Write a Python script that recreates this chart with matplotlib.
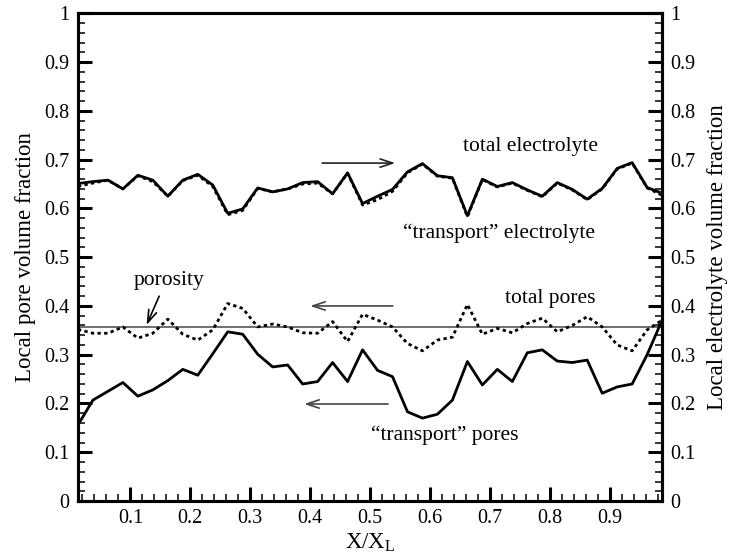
"""Local pore and electrolyte volume fractions along the electrode."""

import numpy as np
import matplotlib.pyplot as plt
from matplotlib.ticker import MultipleLocator, FuncFormatter


N_CELLS = 40
X_POS = (np.arange(N_CELLS) + 0.5) / N_CELLS

TOTAL_ELECTROLYTE = [
    0.651, 0.655, 0.658, 0.640, 0.668, 0.658, 0.625, 0.658, 0.670, 0.648,
    0.590, 0.599, 0.642, 0.634, 0.640, 0.653, 0.655, 0.630, 0.673, 0.610,
    0.625, 0.639, 0.675, 0.692, 0.667, 0.663, 0.585, 0.660, 0.645, 0.653,
    0.638, 0.625, 0.653, 0.639, 0.619, 0.641, 0.682, 0.694, 0.643, 0.631,
]
TRANSPORT_ELECTROLYTE = [
    0.645, 0.652, 0.658, 0.640, 0.667, 0.655, 0.625, 0.657, 0.668, 0.645,
    0.587, 0.596, 0.641, 0.634, 0.640, 0.650, 0.652, 0.630, 0.672, 0.607,
    0.618, 0.635, 0.673, 0.691, 0.666, 0.662, 0.583, 0.659, 0.644, 0.652,
    0.637, 0.624, 0.652, 0.638, 0.618, 0.640, 0.681, 0.693, 0.642, 0.627,
]
TOTAL_PORES = [
    0.352, 0.344, 0.344, 0.357, 0.334, 0.344, 0.373, 0.342, 0.330, 0.351,
    0.405, 0.395, 0.357, 0.363, 0.357, 0.345, 0.344, 0.368, 0.327, 0.383,
    0.371, 0.357, 0.323, 0.308, 0.330, 0.336, 0.403, 0.342, 0.354, 0.345,
    0.364, 0.375, 0.347, 0.360, 0.378, 0.357, 0.320, 0.308, 0.351, 0.371,
]
TRANSPORT_PORES = [
    0.156, 0.207, 0.225, 0.243, 0.215, 0.228, 0.247, 0.270, 0.258, 0.302,
    0.347, 0.342, 0.301, 0.275, 0.279, 0.240, 0.245, 0.284, 0.245, 0.310,
    0.268, 0.255, 0.183, 0.170, 0.178, 0.207, 0.286, 0.238, 0.270, 0.245,
    0.304, 0.310, 0.287, 0.284, 0.289, 0.221, 0.234, 0.240, 0.300, 0.371,
]
POROSITY = 0.357

FONT = "Liberation Serif"
TICK_SIZE = 14.5
LABEL_SIZE = 16.5
NOTE_SIZE = 15.5

plt.rcParams["font.family"] = "serif"
plt.rcParams["font.serif"] = [FONT]
plt.rcParams["mathtext.fontset"] = "custom"
plt.rcParams["mathtext.rm"] = FONT


def _style_axis(ax):
    ax.set_xlim(0.5 / N_CELLS, 1 - 0.5 / N_CELLS)
    ax.set_ylim(0, 1)
    ax.xaxis.set_major_locator(MultipleLocator(0.1))
    ax.xaxis.set_minor_locator(MultipleLocator(0.02))
    ax.yaxis.set_major_locator(MultipleLocator(0.1))
    ax.yaxis.set_minor_locator(MultipleLocator(0.02))
    fmt = FuncFormatter(lambda v, _: f"{v:g}")
    ax.xaxis.set_major_formatter(fmt)
    ax.yaxis.set_major_formatter(fmt)
    ax.tick_params(which="major", direction="in", length=10, width=2.2,
                   labelsize=TICK_SIZE, pad=6)
    ax.tick_params(which="minor", direction="in", length=5, width=1.1)
    ax.tick_params(axis="x", top=False, which="both")
    for spine in ax.spines.values():
        spine.set_linewidth(2.2)


def _serif_ticks(ax):
    for axis in (ax.xaxis, ax.yaxis):
        for tick in axis.get_major_ticks():
            tick.label1.set_fontfamily(FONT)
            tick.label2.set_fontfamily(FONT)


def _arrow(ax, tail, head, color="black"):
    ax.annotate(
        "", xy=head, xytext=tail,
        arrowprops=dict(arrowstyle="->,head_length=0.6,head_width=0.2",
                        lw=1.2, color=color, mutation_scale=15,
                        shrinkA=0, shrinkB=0),
    )


def main():
    fig = plt.figure(figsize=(7.30, 5.57), dpi=100)
    ax = fig.add_axes([0.1068, 0.1005, 0.8002, 0.8755])

    ax.axhline(POROSITY, color="#555555", lw=1.2, zorder=1)
    ax.plot(X_POS, TRANSPORT_ELECTROLYTE, color="black", lw=2.0,
            linestyle=(0, (1.2, 1.2)), zorder=2)
    ax.plot(X_POS, TOTAL_ELECTROLYTE, color="black", lw=2.0, zorder=3)
    ax.plot(X_POS, TOTAL_PORES, color="black", lw=2.0,
            linestyle=(0, (1.2, 1.2)), zorder=2)
    ax.plot(X_POS, TRANSPORT_PORES, color="black", lw=2.0, zorder=3)

    _style_axis(ax)
    ax.set_xlabel(r"X/X$_{\mathregular{L}}$", fontsize=LABEL_SIZE, labelpad=2)
    ax.set_ylabel("Local pore volume fraction", fontsize=LABEL_SIZE,
                  labelpad=6)

    ax2 = ax.twinx()
    _style_axis(ax2)
    ax2.set_ylabel("Local electrolyte volume fraction", fontsize=LABEL_SIZE,
                   labelpad=8)

    notes = [
        ("total electrolyte", 0.767, 0.726),
        ("\u201ctransport\u201d electrolyte", 0.715, 0.550),
        ("total pores", 0.800, 0.416),
        ("porosity", 0.165, 0.453),
        ("\u201ctransport\u201d pores", 0.625, 0.135),
    ]
    for text, x, y in notes:
        ax.text(x, y, text, fontsize=NOTE_SIZE, ha="center", va="center")

    _arrow(ax, (0.420, 0.693), (0.542, 0.693), color="#222222")
    _arrow(ax, (0.538, 0.400), (0.400, 0.400), color="#444444")
    _arrow(ax, (0.530, 0.199), (0.390, 0.199), color="#444444")
    _arrow(ax, (0.148, 0.420), (0.127, 0.361))

    fig.canvas.draw()
    _serif_ticks(ax)
    _serif_ticks(ax2)
    fig.savefig("out.png", dpi=100)
    plt.close(fig)


if __name__ == "__main__":
    main()
